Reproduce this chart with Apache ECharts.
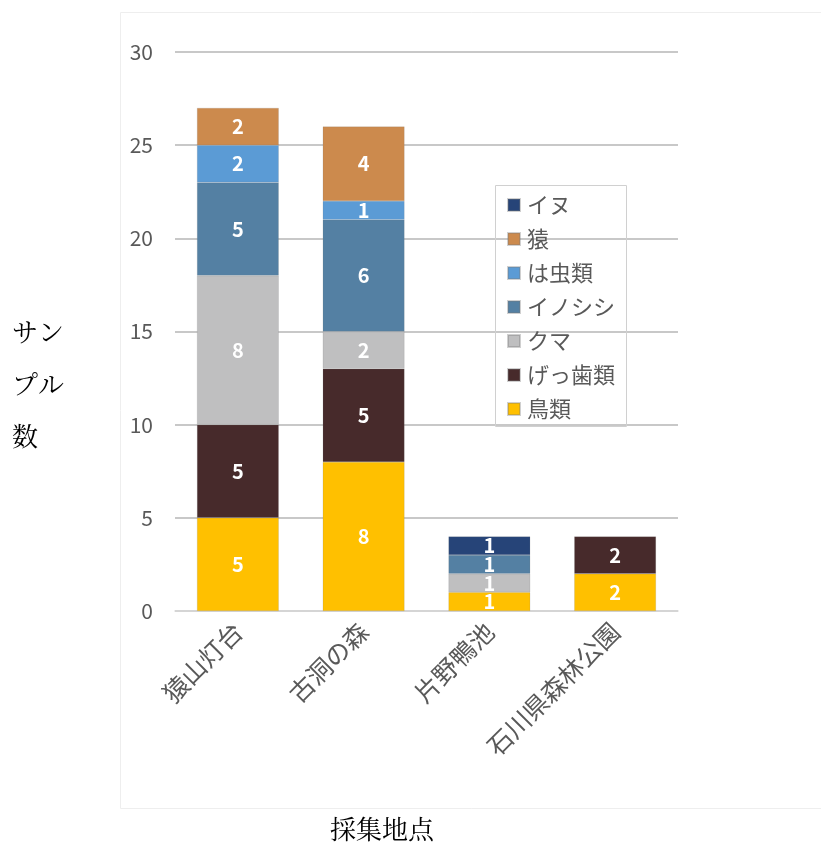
<!DOCTYPE html>
<html><head><meta charset="utf-8">
<script src="https://cdn.jsdelivr.net/npm/echarts@6/dist/echarts.min.js"></script>
<style>html,body{margin:0;padding:0;background:#fff}#c{width:821px;height:850px}</style>
</head><body><div id="c"></div>
<script>
const categories = ['猿山灯台', '古洞の森', '片野鴨池', '石川県森林公園'];
const seriesNames = ['鳥類', 'げっ歯類', 'クマ', 'イノシシ', 'は虫類', '猿', 'イヌ'];
const birds   = [5, 8, 1, 2];
const rodents = [5, 5, 0, 2];
const bears   = [8, 2, 1, 0];
const boars   = [5, 6, 1, 0];
const reptiles= [2, 1, 0, 0];
const monkeys = [2, 4, 0, 0];
const dogs    = [0, 0, 1, 0];
const colors = ['#FFC000', '#472A2B', '#BFBFC0', '#5480A3', '#5B9BD5', '#CC8A4D', '#264478'];
const values = [birds, rodents, bears, boars, reptiles, monkeys, dogs];

const chart = echarts.init(document.getElementById('c'));
const font = '"Noto Sans CJK JP", "Noto Sans", sans-serif';
const serif = '"Noto Serif CJK JP", "Noto Sans CJK JP", serif';
chart.setOption({
  animation: false,
  backgroundColor: '#fff',
  graphic: [{
    type: 'rect', shape: {x: 120.5, y: 12.5, width: 710, height: 796},
    style: {fill: 'none', stroke: '#eeeeee', lineWidth: 1}, z: 0
  }, {
    type: 'rect', shape: {x: 495.5, y: 185.5, width: 131, height: 241},
    style: {fill: 'none', stroke: '#d0d0d0', lineWidth: 1}, z: 10
  }, {
    type: 'text', left: 12, top: 306,
    style: {text: 'サン\nプル\n数', fill: '#000', font: '26px ' + serif, lineHeight: 52}
  }, {
    type: 'text', left: 330, top: 816,
    style: {text: '採集地点', fill: '#000', font: '26px ' + serif}
  }],
  grid: {left: 175, right: 143, top: 52, bottom: 239, containLabel: false, outerBoundsMode: 'none'},
  xAxis: {
    type: 'category', data: categories,
    axisLine: {lineStyle: {color: '#d9d9d9', width: 1.5}},
    axisTick: {show: false},
    axisLabel: {rotate: 45, color: '#595959', fontSize: 25, fontFamily: font, margin: 16}
  },
  yAxis: {
    type: 'value', min: 0, max: 30, interval: 5,
    axisLine: {show: false}, axisTick: {show: false},
    splitLine: {lineStyle: {color: '#c8c8c8', width: 2}},
    axisLabel: {color: '#595959', fontSize: 21, fontFamily: font, margin: 22}
  },
  legend: {
    orient: 'vertical', left: 502, top: 189, itemGap: 12,
    itemWidth: 12, itemHeight: 12, icon: 'rect',
    data: seriesNames.slice().reverse(),
    textStyle: {color: '#595959', fontSize: 22, fontFamily: font, padding: [0, 0, 0, 2]}
  },
  series: seriesNames.map((n, i) => ({
    name: n, type: 'bar', stack: 'total', barWidth: '65%',
    data: values[i].map(v => v === 0 ? null : v),
    itemStyle: {color: colors[i], borderColor: 'rgba(120,120,120,0.35)', borderWidth: 0.5},
    label: {show: true, position: 'inside', color: '#fff', fontWeight: 'bold', fontSize: 20, fontFamily: font}
  }))
});
</script></body></html>
